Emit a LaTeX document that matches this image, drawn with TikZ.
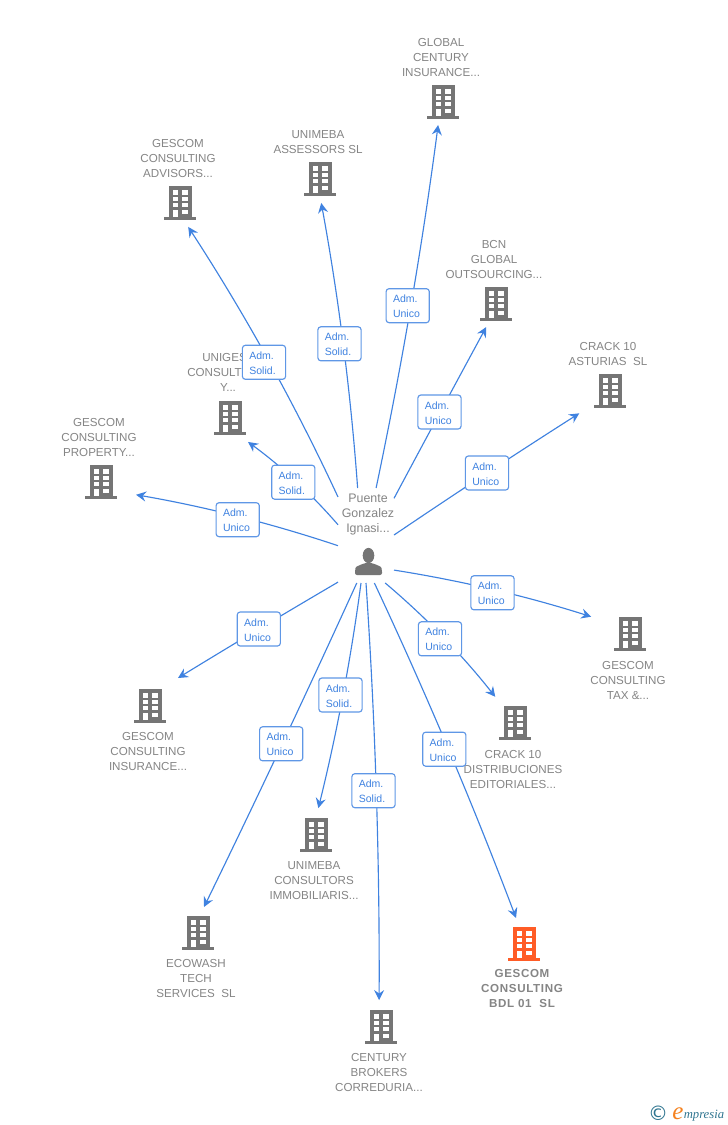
\documentclass[tikz,border=0pt]{standalone}
\usepackage{fontspec}
\setmainfont{Liberation Sans}
\newfontfamily\djfont{DejaVu Sans}
\newfontfamily\logofont{Liberation Serif}
\usetikzlibrary{arrows.meta,calc}
\definecolor{edgeblue}{HTML}{3F82E0}
\definecolor{boxblue}{HTML}{5F97E6}
\definecolor{admblue}{HTML}{3F82E0}
\definecolor{txtgray}{HTML}{858585}
\definecolor{bldgray}{HTML}{757575}
\definecolor{bldorange}{HTML}{FF5C26}
\definecolor{logoteal}{HTML}{2F7590}
\definecolor{logoorange}{HTML}{F58220}
\tikzset{
  edgeline/.style={draw=edgeblue,line width=0.85pt,-{Stealth[length=7.5pt,width=7.5pt,inset=2.6pt]}},
  adm/.style={draw=boxblue,fill=white,line width=0.85pt,rounded corners=2.2pt,
    font=\fontsize{7.9}{11.25}\selectfont,text=admblue,align=flush left,
    text width=22pt,inner xsep=5.2pt,inner ysep=0pt,minimum height=25.5pt,
    execute at begin node={\rule{0pt}{7.1pt}}},
  bldtxt/.style={font=\fontsize{8.7}{11.25}\selectfont,text=txtgray,align=center,inner sep=0pt,yshift=-0.75pt},
  bldbold/.style={font=\fontsize{8.7}{11.4}\selectfont\bfseries\addfontfeature{LetterSpace=5.6},text=txtgray,align=center,inner sep=0pt,yshift=-0.75pt},
  persontxt/.style={font=\fontsize{9.3}{11.25}\selectfont,text=txtgray,align=center,inner sep=0pt,yshift=-0.75pt},
}
\newcommand{\conn}[3]{\draw[edgeline] (#1) .. controls ($(#1)!0.6667!(#2)$) and ($(#3)!0.6667!(#2)$) .. (#3);}
\newcommand{\bldg}[5]{%
  \node[circle,inner sep=0pt,outer sep=0pt,minimum size=#5*1.5pt] (#1) at (#2,#3) {};
  \begin{scope}[shift={(#2,#3)}]
    \fill[#4] (-11,-17) rectangle (12,14);
    \fill[#4] (-16,14) rectangle (16,17);
    \fill[white] (-7,-13) rectangle (-1.7,-8.3);
    \fill[white] (2.3,-13) rectangle (7.7,-8.3);
    \fill[white] (-7,-6.3) rectangle (-1.7,-2.3);
    \fill[white] (2.3,-6.3) rectangle (7.7,-2.3);
    \fill[white] (-7,0) rectangle (-1.7,4.3);
    \fill[white] (2.3,0) rectangle (7.7,4.3);
    \fill[white] (-7,7) rectangle (-1.7,14);
    \fill[white] (2.3,7) rectangle (7.7,11);
  \end{scope}}
\begin{document}
\begin{tikzpicture}[x=0.75pt,y=-0.75pt]
\useasboundingbox (0,0) rectangle (728,1125);
\fill[white] (0,0) rectangle (728,1125);

% person
\node[rectangle,inner sep=0pt,outer sep=0pt,minimum width=42pt,minimum height=71.25pt] (p) at (366,535.5) {};
\node[persontxt] (ptxt) at (368,514) {Puente\\Gonzalez\\Ignasi...};
\fill[bldgray] (368.5,555.5) ellipse (5.8 and 7.6);
\fill[bldgray,rounded corners=1.5pt] (355,575) -- (355,570) .. controls (356,566) and (360,565.5) .. (364,563) -- (373,563) .. controls (377,565.5) and (381,566) .. (382,570) -- (382,575) -- cycle;

% buildings
\bldg{b1}{443}{102}{bldgray}{23.5}
\bldg{b2}{320}{179}{bldgray}{24}
\bldg{b3}{180}{203}{bldgray}{25.3}
\bldg{b4}{230}{418}{bldgray}{30}
\bldg{b5}{101}{482}{bldgray}{37.3}
\bldg{b6}{496}{304}{bldgray}{25}
\bldg{b7}{610}{391}{bldgray}{38}
\bldg{b8}{630}{634}{bldgray}{42.5}
\bldg{b9}{515}{723}{bldgray}{32.8}
\bldg{b10}{524}{944}{bldorange}{27.2}
\bldg{b11}{381}{1027}{bldgray}{27}
\bldg{b12}{316}{835}{bldgray}{27}
\bldg{b13}{198}{933}{bldgray}{26.7}
\bldg{b14}{150}{706}{bldgray}{39.6}

% building names
\node[bldtxt] (t1) at (441,57) {GLOBAL\\CENTURY\\INSURANCE...};
\node[bldtxt] (t2) at (318,141.5) {UNIMEBA\\ASSESSORS SL};
\node[bldtxt] (t3) at (178,157.5) {GESCOM\\CONSULTING\\ADVISORS...};
\node[bldtxt,anchor=west] (t4a) at (202,357) {UNIGES};
\node[bldtxt,anchor=west] (t4b) at (187,372) {CONSULT};
\node[bldtxt] (t4c) at (228,387) {Y...};
\node[bldtxt] (t5) at (99,436) {GESCOM\\CONSULTING\\PROPERTY...};
\node[bldtxt] (t6) at (494,259) {BCN\\GLOBAL\\OUTSOURCING...};
\node[bldtxt] (t7) at (608,353.5) {CRACK 10\\ASTURIAS\ \ SL};
\node[bldtxt] (t8) at (628,679) {GESCOM\\CONSULTING\\TAX \&...};
\node[bldtxt] (t9) at (513,768) {CRACK 10\\DISTRIBUCIONES\\EDITORIALES...};
\node[bldbold] (t10) at (522,987.5) {GESCOM\\CONSULTING\\BDL 01\ \ SL};
\node[bldtxt] (t11) at (379,1071) {CENTURY\\BROKERS\\CORREDURIA...};
\node[bldtxt] (t12) at (314,880) {UNIMEBA\\CONSULTORS\\IMMOBILIARIS...};
\node[bldtxt] (t13) at (196,977) {ECOWASH\\TECH\\SERVICES\ \ SL};
\node[bldtxt] (t14) at (148,750) {GESCOM\\CONSULTING\\INSURANCE...};

% connectors
\conn{p.78.1}{414.5,305.75}{b1.-102.3}
\conn{p.100.7}{347.25,344.75}{b2.-87.6}
\conn{p.126.7}{273.5,358}{b3.-71.6}
\conn{p.159.4}{297.75,478.25}{b4.-53.1}
\conn{p.200.6}{238.75,512.5}{b5.-20.4}
\conn{p.53.3}{440.25,411.75}{b6.-113.5}
\conn{p.1}{486,472.75}{b7.-144.6}
\conn{p.-51}{494.75,586}{b8.156.4}
\conn{p.-68.2}{445.65,634}{b9.127.6}
\conn{p.-80.4}{451.6,747.65}{b10.107.1}
\conn{p.-90}{380,790.75}{b11.94.2}
\conn{p.-96}{346,696}{b12.85.8}
\conn{p.-101.9}{283.75,743.5}{b13.77}
\conn{p.-121.6}{258,629}{b14.45}

% connector labels
\node[adm] (l1) at (407.7,305.7) {Adm.\\Unico};
\node[adm] (l2) at (339.5,343.8) {Adm.\\Solid.};
\node[adm] (l3) at (264,362.3) {Adm.\\Solid.};
\node[adm] (l4) at (293.3,482.2) {Adm.\\Solid.};
\node[adm] (l5) at (237.7,519.7) {Adm.\\Unico};
\node[adm] (l6) at (439.5,412) {Adm.\\Unico};
\node[adm] (l7) at (487,473) {Adm.\\Unico};
\node[adm] (l8) at (492.5,592.8) {Adm.\\Unico};
\node[adm] (l9) at (440,638.8) {Adm.\\Unico};
\node[adm] (l10) at (444.3,749.2) {Adm.\\Unico};
\node[adm] (l11) at (373.5,790.7) {Adm.\\Solid.};
\node[adm] (l12) at (340.5,695) {Adm.\\Solid.};
\node[adm] (l13) at (281.2,743.8) {Adm.\\Unico};
\node[adm] (l14) at (258.8,629) {Adm.\\Unico};

% logo
\node[inner sep=0pt,text=logoteal,font=\djfont\fontsize{15}{15}\selectfont] (lc) at (658,1113.5) {©};
\node[inner sep=0pt,text=logoorange,anchor=base west,font=\logofont\itshape\fontsize{18.75}{18.75}\selectfont] (le) at (672,1119.5) {e};
\node[inner sep=0pt,text=logoteal,anchor=base west,font=\logofont\itshape\fontsize{9.5}{9.5}\selectfont] (lm) at (683.5,1118.5) {mpresia};
\end{tikzpicture}
\end{document}
